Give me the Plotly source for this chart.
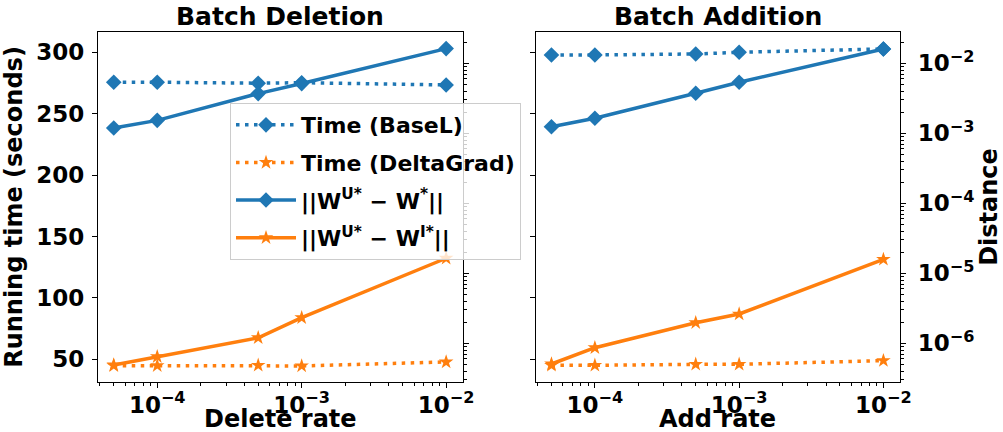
import plotly.graph_objects as go

# ---------------- data ----------------
rates = [5e-5, 1e-4, 5e-4, 1e-3, 1e-2]

del_time_basel = [275.6, 275.6, 274.8, 275.2, 273.4]
del_time_deltagrad = [44.8, 44.8, 45.1, 44.6, 47.8]
del_dist_basel = [1.19e-3, 1.53e-3, 3.69e-3, 5.13e-3, 1.62e-2]
del_dist_deltagrad = [4.9e-7, 6.44e-7, 1.2e-6, 2.32e-6, 1.64e-5]

add_time_basel = [297.8, 297.8, 298.6, 300.0, 302.7]
add_time_deltagrad = [45.1, 45.1, 45.9, 45.9, 48.9]
add_dist_basel = [1.24e-3, 1.64e-3, 3.73e-3, 5.35e-3, 1.6e-2]
add_dist_deltagrad = [5.06e-7, 8.65e-7, 1.97e-6, 2.62e-6, 1.58e-5]

series_names = [
    "Time (BaseL)",
    "Time (DeltaGrad)",
    "||W<sup>U*</sup> − W<sup>*</sup>||",
    "||W<sup>U*</sup> − W<sup>I*</sup>||",
]
subplot_titles = ["Batch Deletion", "Batch Addition"]
x_titles = ["Delete rate", "Add rate"]
y_title_left = "Running time (seconds)"
y_title_right = "Distance"

x_tick_vals = [1e-4, 1e-3, 1e-2]
x_tick_text = ["10<sup>−4</sup>", "10<sup>−3</sup>", "10<sup>−2</sup>"]
y_time_ticks = [50, 100, 150, 200, 250, 300]
y_dist_ticks = [1e-6, 1e-5, 1e-4, 1e-3, 1e-2]
y_dist_text = ["10<sup>−6</sup>", "10<sup>−5</sup>", "10<sup>−4</sup>",
               "10<sup>−3</sup>", "10<sup>−2</sup>"]

# ---------------- styling ----------------
BLUE = "#1f77b4"
ORANGE = "#ff7f0e"
FONT = "DejaVu Sans"
DOT = "3.5px,5.5px"

minor_x = [m * 10.0 ** e for e in range(-6, -1) for m in range(2, 10)]
minor_y = [m * 10.0 ** e for e in range(-8, 0) for m in range(2, 10)]

fig = go.Figure()


def add_panel(xa, ya_time, ya_dist, tb, td, db, dd, show):
    fig.add_trace(go.Scatter(
        x=rates, y=tb, name=series_names[0], xaxis=xa, yaxis=ya_time,
        mode="lines+markers", showlegend=show, legendgroup="g1",
        line=dict(color=BLUE, width=3.5, dash=DOT),
        marker=dict(symbol="diamond", size=12, color=BLUE)))
    fig.add_trace(go.Scatter(
        x=rates, y=td, name=series_names[1], xaxis=xa, yaxis=ya_time,
        mode="lines+markers", showlegend=show, legendgroup="g2",
        line=dict(color=ORANGE, width=3.5, dash=DOT),
        marker=dict(symbol="star", size=11, color=ORANGE)))
    fig.add_trace(go.Scatter(
        x=rates, y=db, name=series_names[2], xaxis=xa, yaxis=ya_dist,
        mode="lines+markers", showlegend=show, legendgroup="g3",
        line=dict(color=BLUE, width=3.5),
        marker=dict(symbol="diamond", size=12, color=BLUE)))
    fig.add_trace(go.Scatter(
        x=rates, y=dd, name=series_names[3], xaxis=xa, yaxis=ya_dist,
        mode="lines+markers", showlegend=show, legendgroup="g4",
        line=dict(color=ORANGE, width=3.5),
        marker=dict(symbol="star", size=11, color=ORANGE)))


add_panel("x", "y", "y2", del_time_basel, del_time_deltagrad,
          del_dist_basel, del_dist_deltagrad, True)
add_panel("x2", "y3", "y4", add_time_basel, add_time_deltagrad,
          add_dist_basel, add_dist_deltagrad, False)

tickfont = dict(family=FONT, size=23, color="black", weight="bold")
titlefont = dict(family=FONT, size=24, color="black", weight="bold")

common = dict(showgrid=False, zeroline=False, showline=True, linecolor="black",
              linewidth=1.1, ticks="outside", ticklen=5, tickwidth=1.1,
              tickcolor="black", tickfont=tickfont)
minor_common = dict(ticks="outside", ticklen=3, tickwidth=0.8,
                    tickcolor="black", showgrid=False, tickmode="array")

dom_left = [0.0, 0.4548]
dom_right = [0.5458, 1.0]
xrange_log = [-4.41, -1.885]
time_range = [31.5, 316.5]
dist_range = [-6.553, -1.553]

fig.update_layout(
    width=1003, height=432, autosize=False,
    margin=dict(l=98, r=103, t=32, b=50, autoexpand=False),
    paper_bgcolor="white", plot_bgcolor="white",
    font=dict(family=FONT, color="black"),
    xaxis=dict(type="log", domain=dom_left, range=xrange_log, anchor="y",
               tickmode="array", tickvals=x_tick_vals, ticktext=x_tick_text,
               mirror=True, minor=dict(tickvals=minor_x, **minor_common),
               ticklabelstandoff=-3, **common),
    yaxis=dict(domain=[0, 1], range=time_range, anchor="x",
               tickmode="array", tickvals=y_time_ticks, ticklabelstandoff=3,
               title=dict(text=y_title_left, font=titlefont, standoff=8),
               **common),
    yaxis2=dict(type="log", overlaying="y", side="right", anchor="x",
                range=dist_range, tickmode="array", tickvals=y_dist_ticks,
                showticklabels=False,
                minor=dict(tickvals=minor_y, **minor_common), **common),
    xaxis2=dict(type="log", domain=dom_right, range=xrange_log, anchor="y3",
                tickmode="array", tickvals=x_tick_vals, ticktext=x_tick_text,
                mirror=True, minor=dict(tickvals=minor_x, **minor_common),
                ticklabelstandoff=-3, **common),
    yaxis3=dict(domain=[0, 1], range=time_range, anchor="x2",
                tickmode="array", tickvals=y_time_ticks, showticklabels=False,
                **common),
    yaxis4=dict(type="log", overlaying="y3", side="right", anchor="x2",
                range=dist_range, tickmode="array", tickvals=y_dist_ticks,
                ticktext=y_dist_text, ticklabelstandoff=7,
                minor=dict(tickvals=minor_y, **minor_common),
                title=dict(text=y_title_right, font=titlefont, standoff=18),
                **common),
    legend=dict(x=0.1646, y=0.797, xanchor="left", yanchor="top",
                font=dict(family=FONT, size=22, color="black", weight="bold"),
                bgcolor="rgba(255,255,255,0.8)", bordercolor="#cccccc",
                borderwidth=1, tracegroupgap=6, traceorder="grouped",
                itemwidth=60),
    annotations=[
        dict(text=subplot_titles[0], x=sum(dom_left) / 2, y=1, xref="paper",
             yref="paper", xanchor="center", yanchor="middle", yshift=16,
             showarrow=False,
             font=dict(family=FONT, size=25, color="black", weight="bold")),
        dict(text=subplot_titles[1], x=sum(dom_right) / 2, y=1, xref="paper",
             yref="paper", xanchor="center", yanchor="middle", yshift=16,
             showarrow=False,
             font=dict(family=FONT, size=25, color="black", weight="bold")),
        dict(text=x_titles[0], x=sum(dom_left) / 2, y=0, xref="paper",
             yref="paper", xanchor="center", yanchor="middle", yshift=-37,
             showarrow=False, font=titlefont),
        dict(text=x_titles[1], x=sum(dom_right) / 2, y=0, xref="paper",
             yref="paper", xanchor="center", yanchor="middle", yshift=-37,
             showarrow=False, font=titlefont),
    ],
)

# remove the page's default 8px body margin so the figure sits at (0, 0)
fig.write_html("out.html", config={"displayModeBar": False},
               post_script="document.body.style.margin='0';")
